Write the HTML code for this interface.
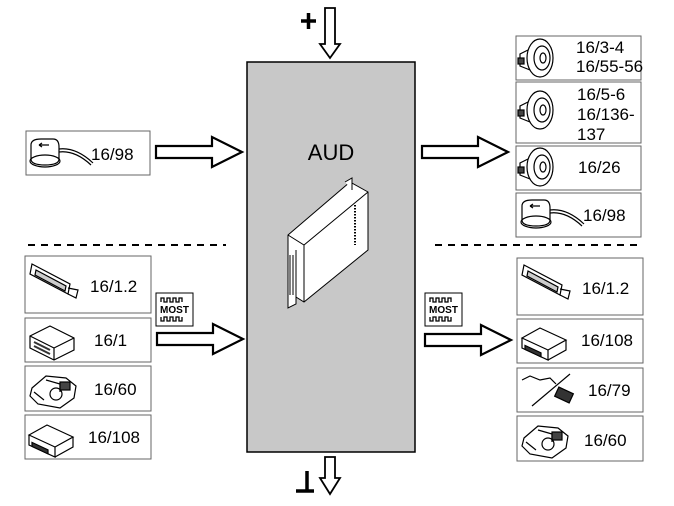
<!DOCTYPE html>
<html><head><meta charset="utf-8"><style>
html,body{margin:0;padding:0;background:#fff}
svg{display:block}
text{font-family:"Liberation Sans",Arial,sans-serif;fill:#000}
</style></head><body>
<svg width="674" height="506" viewBox="0 0 674 506" xmlns="http://www.w3.org/2000/svg">
<defs>
<g id="harrow"><path d="M0,-6 H56 V-15 L86,0 L56,15 V6 H0 Z" fill="#fff" stroke="#000" stroke-width="2.2" stroke-linejoin="miter"/></g>
<g id="speaker" fill="none" stroke="#000" stroke-width="1.2">
<ellipse cx="14" cy="0" rx="13" ry="19" fill="#fff"/><ellipse cx="16" cy="0" rx="8" ry="12"/><ellipse cx="17" cy="0" rx="3" ry="5"/>
<path d="M2,-8 L-6,-4 L-6,8 L4,12"/><rect x="-8" y="0" width="6" height="6" fill="#444"/>
</g>
<g id="sensor" fill="none" stroke="#000" stroke-width="1.2">
<path d="M0,-8 Q0,-14 10,-14 H22 Q28,-14 28,-6 V6 Q28,12 14,12 Q0,12 0,6 Z" fill="#fff"/>
<ellipse cx="14" cy="8" rx="15" ry="6"/><path d="M8,-8 H18 M8,-8 l3,-2 M8,-8 l3,2"/>
<path d="M28,-4 Q45,-6 62,10"/><path d="M28,-1 Q44,-3 60,12"/>
</g>
<g id="display" fill="none" stroke="#000" stroke-width="1.2">
<path d="M2,-18 L40,2 L38,12 L0,-8 Z" fill="#fff"/><path d="M6,-12 L36,4 L35,9 L5,-7 Z" fill="#ccc"/>
<path d="M38,6 L48,8 L46,16 L38,12"/>
</g>
<g id="dvd" fill="none" stroke="#000" stroke-width="1.2">
<path d="M0,-2 L18,-12 L44,0 L26,10 Z" fill="#fff"/><path d="M0,-2 V8 L26,20 V10"/><path d="M26,20 L44,10 V0"/>
<rect x="3" y="4" width="16" height="4" fill="#333" transform="skewY(25)"/>
</g>
<g id="tuner" fill="none" stroke="#000" stroke-width="1.2">
<path d="M0,-4 L20,-14 L44,-2 L44,10 L24,20 L0,8 Z" fill="#fff"/><path d="M0,-4 L24,8 L44,-2 M24,8 V20"/>
<path d="M4,2 L20,10 M4,6 L20,14" stroke="#333" stroke-width="2"/>
</g>
<g id="cam" fill="none" stroke="#000" stroke-width="1.2">
<path d="M2,0 L16,-12 L36,-10 L46,-2 L44,10 L30,20 L8,16 L0,8 Z" fill="#fff"/>
<circle cx="26" cy="6" r="6"/><path d="M4,4 L14,12 M16,-8 L30,-4 L30,4" /><rect x="30" y="-6" width="10" height="8" fill="#444"/>
</g>
<g id="most">
<rect x="0" y="0" width="37" height="33" fill="#fff" stroke="#000" stroke-width="1"/>
<path d="M5,9 v-4 h3 v4 h3 v-4 h3 v4 h3 v-4 h3 v4 h3 v-4 h3 v4" fill="none" stroke="#000" stroke-width="1.3"/>
<text x="18.5" y="20" font-size="10" font-weight="bold" text-anchor="middle">MOST</text>
<path d="M5,24 v4 h3 v-4 h3 v4 h3 v-4 h3 v4 h3 v-4 h3 v4 h3 v-4" fill="none" stroke="#000" stroke-width="1.3"/>
</g>
</defs>

<rect x="247" y="62" width="168" height="390" fill="#c8c8c8" stroke="#000" stroke-width="1.5"/>
<text x="331" y="160" font-size="22" text-anchor="middle">AUD</text>
<g fill="#fff" stroke="#000" stroke-width="1">
<path d="M288,235 L350,182 L368,192 L368,250 L304,302 L288,292 Z"/>
<path d="M288,235 L304,245 L368,192" fill="none"/>
<path d="M304,245 V302"/>
<path d="M288,248 V308 L296,304 V250" fill="#fff"/>
<path d="M290,255 V295 M293,255 V295 M296,255 V295"/>
<path d="M355,205 V245" stroke-dasharray="1.5 1.5" stroke-width="2"/>
<path d="M345,182 L352,178 L352,190"/>
</g>

<path d="M325,8 H335 V44 H340 L330,58 L320,44 H325 Z" fill="#fff" stroke="#000" stroke-width="1.8"/>
<path d="M301,21 H316 M308.5,13 V29" stroke="#000" stroke-width="3.5"/>
<path d="M325,457 H335 V478 H340 L330,494 L320,478 H325 Z" fill="#fff" stroke="#000" stroke-width="1.8"/>
<path d="M296,491 H314 M307,471 V491" stroke="#000" stroke-width="3.5"/>

<use href="#harrow" x="156" y="152"/>
<use href="#harrow" x="422" y="152"/>
<use href="#harrow" x="157" y="339"/>
<use href="#harrow" x="425" y="340"/>

<path d="M28,245 H226" stroke="#000" stroke-width="2" stroke-dasharray="7 6"/>
<path d="M435,245 H640" stroke="#000" stroke-width="2" stroke-dasharray="7 6"/>

<use href="#most" x="156" y="293"/>
<use href="#most" x="425" y="293"/>

<g fill="#fff" stroke="#666" stroke-width="1">
<rect x="26" y="131" width="124" height="44"/>
<rect x="516" y="36" width="125" height="44"/>
<rect x="516" y="82" width="125" height="61"/>
<rect x="516" y="146" width="125" height="44"/>
<rect x="516" y="193" width="125" height="44"/>
<rect x="25" y="256" width="126" height="57"/>
<rect x="25" y="318" width="126" height="44"/>
<rect x="25" y="366" width="126" height="45"/>
<rect x="25" y="415" width="126" height="44"/>
<rect x="517" y="258" width="126" height="57"/>
<rect x="517" y="319" width="126" height="44"/>
<rect x="517" y="368" width="126" height="44"/>
<rect x="517" y="416" width="126" height="45"/>
</g>

<use href="#sensor" x="31" y="153"/>
<use href="#sensor" x="522" y="214"/>
<use href="#speaker" x="526" y="58"/>
<use href="#speaker" x="526" y="110"/>
<use href="#speaker" x="526" y="167"/>
<use href="#display" x="30" y="282"/>
<use href="#display" x="522" y="283"/>
<use href="#tuner" x="30" y="340"/>
<use href="#cam" x="30" y="388"/>
<use href="#dvd" x="29" y="437"/>
<use href="#dvd" x="522" y="340"/>
<use href="#cam" x="522" y="438"/>
<g fill="none" stroke="#000" stroke-width="1.2">
<path d="M522,380 L530,376 L540,380 L550,378 L556,384" />
<path d="M532,406 L570,374"/>
<rect x="556" y="390" width="16" height="10" fill="#333" transform="rotate(25 564 395)"/>
</g>

<g font-size="17">
<text x="91" y="160">16/98</text>
<text x="576" y="53">16/3-4</text>
<text x="576" y="72">16/55-56</text>
<text x="577" y="100">16/5-6</text>
<text x="577" y="120">16/136-</text>
<text x="577" y="140">137</text>
<text x="578" y="173">16/26</text>
<text x="583" y="221">16/98</text>
<text x="90" y="292">16/1.2</text>
<text x="94" y="346">16/1</text>
<text x="94" y="395">16/60</text>
<text x="88" y="443">16/108</text>
<text x="582" y="294">16/1.2</text>
<text x="581" y="346">16/108</text>
<text x="588" y="396">16/79</text>
<text x="584" y="446">16/60</text>
</g>
</svg>
</body></html>
